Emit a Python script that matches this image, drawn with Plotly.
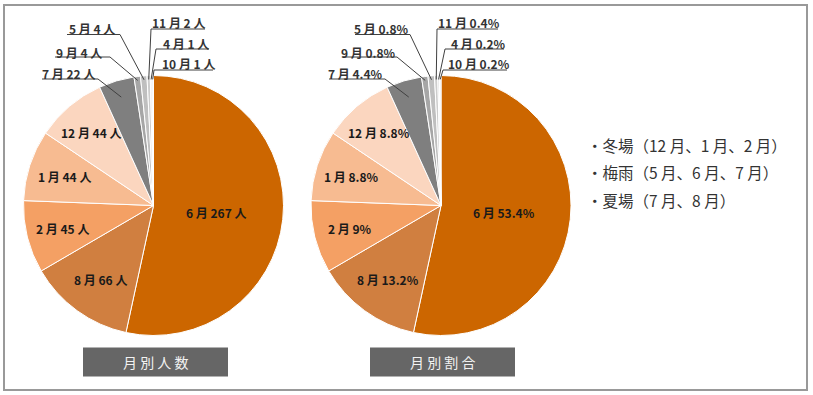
import math
import plotly.graph_objects as go

# ---- data ----
months = ["6月", "8月", "2月", "1月", "12月", "7月", "9月", "5月", "11月", "4月", "10月"]
month_text = ["6 月", "8 月", "2 月", "1 月", "12 月", "7 月", "9 月", "5 月", "11 月", "4 月", "10 月"]
counts = [267, 66, 45, 44, 44, 22, 4, 4, 2, 1, 1]
percents = ["53.4%", "13.2%", "9%", "8.8%", "8.8%", "4.4%", "0.8%", "0.8%", "0.4%", "0.2%", "0.2%"]
colors = ["#CC6600", "#D07F40", "#F4A064", "#F7BB91", "#FBD6BF",
          "#7F7F7F", "#A6A6A6", "#BFBFBF", "#CCCCCC", "#DDDDDD", "#EEEEEE"]
titles = ["月 別 人 数", "月 別 割 合"]
legend_lines = ["・冬場（12 月、1 月、2 月）", "・梅雨（5 月、6 月、7 月）", "・夏場（7 月、8 月）"]

W, H = 813, 395
FONT = "Noto Sans CJK JP"

def px(x):
    return x / W

def py(y):
    return 1 - y / H

# pie geometry (pixels)
centers = [(153.5, 205.5), (441.0, 205.5)]
R = 130.0

# inside label radius factors (style)
inside_r = [0.485, 0.70, 0.72, 0.72, 0.74]

# outside labels layout: slice index -> (text center x, text y, underline x0, x1, y, attach side, leader radius factor)
outside_left = {
    5: (68.5, 73, 42, 98, 79, "r", 0.87),
    6: (78.5, 52, 55, 110, 57, "r", 0.97),
    7: (91.5, 29, 67, 120, 34.5, "r", 0.97),
    8: (178.5, 23, 151, 205, 29, "l", 0.97),
    9: (186, 43, 156, 209, 49, "l", 0.97),
    10: (188, 64, 154, 213, 70, "l", 0.97),
}
outside_right = {
    5: (355.5, 73, 329, 385, 79, "r", 0.87),
    6: (368.5, 52, 343, 397, 57, "r", 0.97),
    7: (381.5, 29, 355, 410, 34.5, "r", 0.97),
    8: (468.5, 23, 437, 498, 29, "l", 0.97),
    9: (478, 43, 445, 504, 49, "l", 0.97),
    10: (478.5, 63.5, 443, 507, 70, "l", 0.97),
}

total = sum(counts)
fr = [c / total for c in counts]
starts = []
acc = 0.0
for f in fr:
    starts.append(acc)
    acc += f
mids = [s + f / 2 for s, f in zip(starts, fr)]

def slice_point(ci, i, rf):
    cx, cy = centers[ci]
    th = 2 * math.pi * mids[i]
    return cx + rf * R * math.sin(th), cy - rf * R * math.cos(th)

fig = go.Figure()
for ci in range(2):
    cx, cy = centers[ci]
    fig.add_trace(go.Pie(
        values=counts, labels=months, sort=False, direction="clockwise", rotation=0,
        marker=dict(colors=colors, line=dict(color="white", width=1)),
        textinfo="none", showlegend=False,
        domain=dict(x=[px(cx - R), px(cx + R)], y=[py(cy + R), py(cy - R)]),
    ))

annotations = []
shapes = []
label_sets = [
    [f"{m} {c} 人" for m, c in zip(month_text, counts)],
    [f"{m} {p}" for m, p in zip(month_text, percents)],
]

for ci in range(2):
    texts = label_sets[ci]
    for i in range(5):
        x, y = slice_point(ci, i, inside_r[i])
        annotations.append(dict(x=px(x), y=py(y), xref="paper", yref="paper", text=texts[i],
                                showarrow=False, xanchor="center", yanchor="middle",
                                font=dict(family=FONT, size=12, color="#1a1a1a", weight="bold")))
    outs = outside_left if ci == 0 else outside_right
    for i, (tx, ty, ux0, ux1, uy, side, rf) in outs.items():
        annotations.append(dict(x=px(tx), y=py(ty), xref="paper", yref="paper", text=texts[i],
                                showarrow=False, xanchor="center", yanchor="middle",
                                font=dict(family=FONT, size=12, color="#333333", weight="bold")))
        shapes.append(dict(type="line", xref="paper", yref="paper", x0=px(ux0), x1=px(ux1),
                           y0=py(uy), y1=py(uy), line=dict(color="#404040", width=1)))
        ax = ux1 if side == "r" else ux0
        ex, ey = slice_point(ci, i, rf)
        shapes.append(dict(type="line", xref="paper", yref="paper", x0=px(ax), y0=py(uy),
                           x1=px(ex), y1=py(ey), line=dict(color="#404040", width=1)))

# title boxes
boxes = [(83, 228), (370, 515)]
for (bx0, bx1), t in zip(boxes, titles):
    shapes.append(dict(type="rect", xref="paper", yref="paper", x0=px(bx0), x1=px(bx1),
                       y0=py(376.5), y1=py(347.5), fillcolor="#666666", line=dict(width=0), layer="above"))
    annotations.append(dict(x=px((bx0 + bx1) / 2), y=py(362), xref="paper", yref="paper", text=t,
                            showarrow=False, xanchor="center", yanchor="middle",
                            font=dict(family=FONT, size=14, color="#F2F2F2")))

# legend text
for k, line in enumerate(legend_lines):
    annotations.append(dict(x=px(585), y=py(145 + 27.3 * k), xref="paper", yref="paper", text=line,
                            showarrow=False, xanchor="left", yanchor="middle",
                            font=dict(family=FONT, size=15.5, color="#333333")))

# outer frame
shapes.append(dict(type="rect", xref="paper", yref="paper", x0=px(4), x1=px(807), y0=py(390), y1=py(5),
                   line=dict(color="#999999", width=2)))

fig.update_layout(width=W, height=H, margin=dict(l=0, r=0, t=0, b=0),
                  paper_bgcolor="white", plot_bgcolor="white",
                  annotations=annotations, shapes=shapes)

fig.write_html("out.html", config={"displayModeBar": False},
               post_script="document.body.style.margin='0';document.body.style.overflow='hidden';")
